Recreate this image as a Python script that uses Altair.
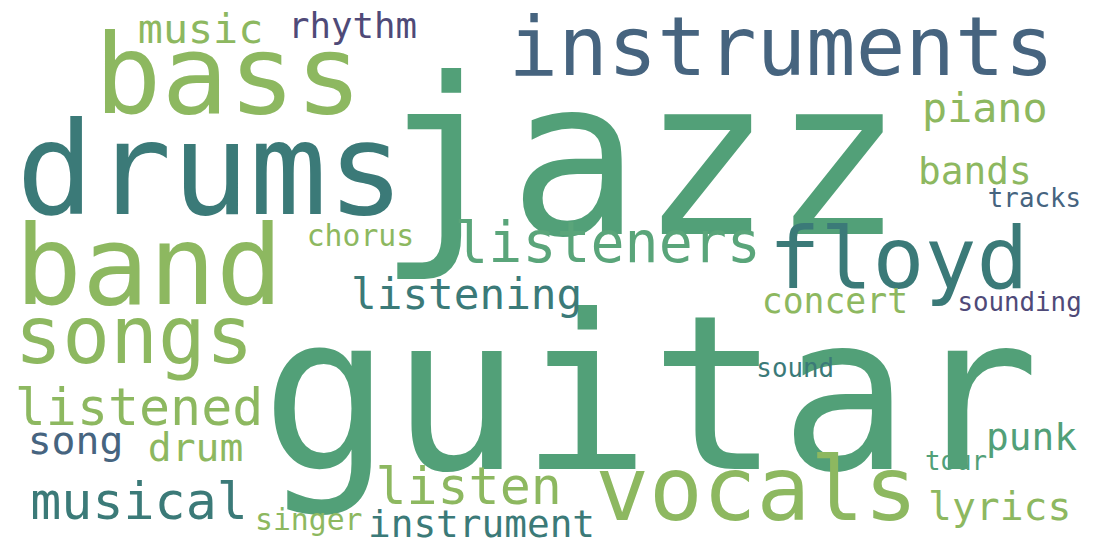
import altair as alt
import pandas as pd

words = ["jazz","guitar","drums","bass","instruments","band","floyd","listeners","songs","vocals",
         "listened","musical","listen","instrument","listening","music","rhythm","piano","bands","tracks",
         "chorus","concert","sounding","sound","song","drum","punk","tour","lyrics","singer"]
xs = [645,655,212,230,787,150,905,612,135,762,140,140,472,485,470,202,355,992,982,1042,
      363,841,1027,801,76,197,1039,963,1007,311]
ys = [168,405,175,78,48,270,262,245,340,495,410,505,490,528,296,28,25,108,172,198,
      237,302,303,370,443,450,440,463,510,523]
sizes = [220,217,130,112,83,112,87,57,80,90,52,52,52,38,43,42,36,42,38,26,
         30,35,26,26,40,40,38,26,40,30]
colors = ["#52a078","#52a078","#3b7a78","#8db860","#46647f","#8db860","#3b7a78","#5aa57a","#8db860","#8db860",
          "#8db860","#3b7a78","#8db860","#3b7a78","#3b7a78","#8db860","#4f4a78","#8db860","#8db860","#46647f",
          "#8db860","#8db860","#4f4a78","#3b7a78","#46647f","#8db860","#52a078","#52a078","#8db860","#8db860"]

df = pd.DataFrame({"word": words, "x": xs, "y": ys, "size": sizes, "color": colors})

chart = alt.Chart(df).mark_text(font="DejaVu Sans Mono", baseline="middle", align="center").encode(
    x=alt.X("x:Q", scale=alt.Scale(domain=[8, 1101]), axis=None),
    y=alt.Y("y:Q", scale=alt.Scale(domain=[550, 8]), axis=None),
    text="word:N",
    size=alt.Size("size:Q", scale=None, legend=None),
    color=alt.Color("color:N", scale=None, legend=None),
).properties(width=1093, height=542, padding=0, autosize="none").configure_view(stroke=None)

chart.save("out.html", embed_options={"renderer": "svg", "actions": False})
